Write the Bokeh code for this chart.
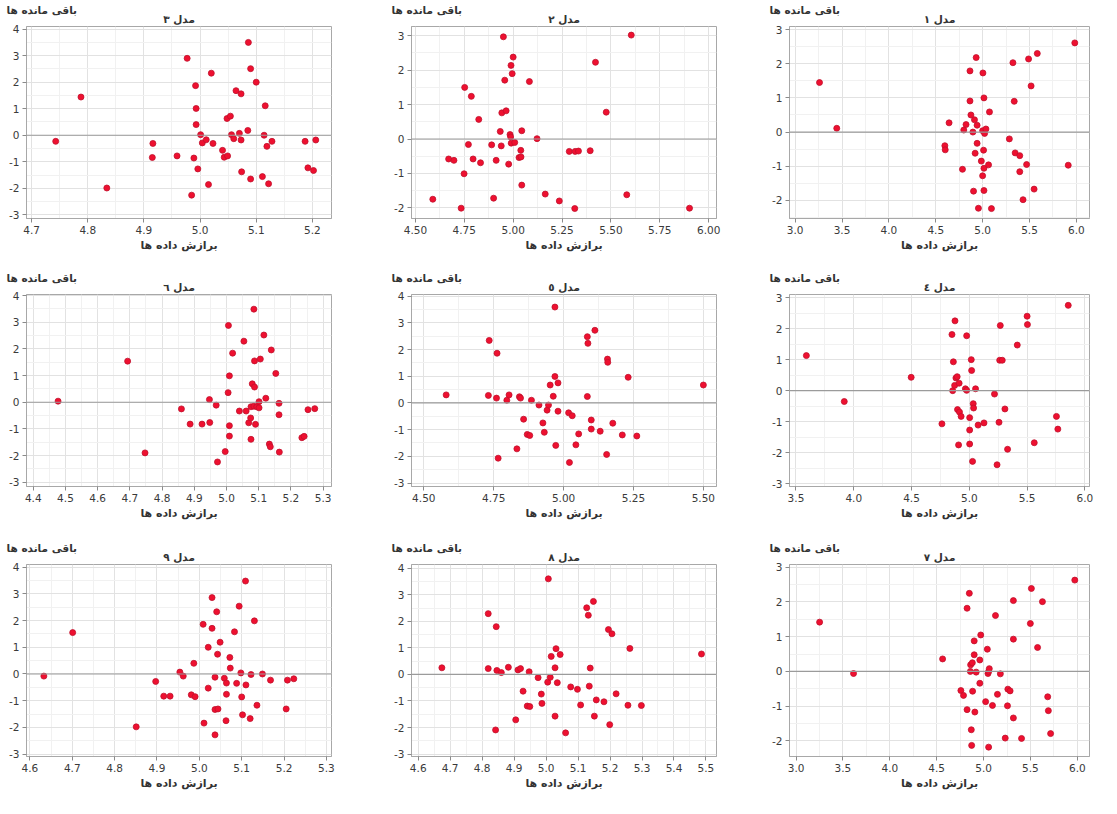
from bokeh.plotting import figure
from bokeh.layouts import column, row
from bokeh.models import Range1d, FixedTicker, NumeralTickFormatter, Span, Title
from bokeh.embed import file_html
from bokeh.resources import INLINE

y_label = "باقی مانده ها"
x_label = "برازش داده ها"
titles = {1: "مدل ۱", 2: "مدل ۲", 3: "مدل ۳", 4: "مدل ٤", 5: "مدل ٥",
          6: "مدل ٦", 7: "مدل ۷", 8: "مدل ۸", 9: "مدل ۹"}

# ---------------- data (fitted values, residuals) ----------------
fit1 = [3.26, 3.444, 4.597, 4.601, 4.642, 4.785, 4.799, 4.823, 4.865, 4.865, 4.875, 4.896, 4.913, 4.920,
        4.903, 4.931, 4.941, 4.941, 4.955, 4.986, 5.000, 5.003, 5.000, 5.010, 5.014, 5.014, 5.014, 5.021,
        5.035, 5.063, 5.073, 5.094, 5.285, 5.323, 5.337, 5.347, 5.396, 5.396, 5.431, 5.469, 5.490, 5.517,
        5.549, 5.583, 5.913, 5.983]
res1 = [1.45, 0.11, -0.40, -0.52, 0.27, -1.09, 0.06, 0.22, 1.79, 0.91, 0.50, 0.00, 0.36, -0.62,
        -1.73, 2.18, 0.20, -0.33, -2.23, -0.85, 0.04, 1.73, -1.28, -0.53, 1.00, -1.06, -1.71, -0.04,
        0.09, -0.96, 0.59, -2.24, -0.20, 2.03, 0.90, -0.61, -0.69, -1.16, -1.98, -0.95, 2.14, 1.35,
        -1.67, 2.30, -0.97, 2.61]

fit2 = [4.589, 4.734, 4.670, 4.697, 4.749, 4.752, 4.786, 4.771, 4.795, 4.824, 4.833, 4.890, 4.913, 4.900,
        4.934, 4.939, 4.942, 4.964, 4.950, 4.957, 4.977, 4.989, 4.995, 5.000, 4.984, 4.987, 4.990, 5.008,
        5.030, 5.040, 5.039, 5.044, 5.044, 5.083, 5.122, 5.164, 5.236, 5.287, 5.317, 5.334, 5.315, 5.394,
        5.421, 5.476, 5.581, 5.604, 5.902]
res2 = [-1.75, -2.01, -0.58, -0.62, -1.01, 1.50, 1.24, -0.16, -0.58, 0.57, -0.69, -0.17, -0.62, -1.72,
        0.22, -0.20, 0.76, 0.82, 2.97, 1.71, -0.73, 2.14, 1.90, 2.38, 0.13, 0.06, -0.12, -0.10,
        -0.54, -0.52, -0.33, 0.24, -1.34, 1.67, 0.01, -1.60, -1.80, -0.36, -0.36, -0.35, -2.02, -0.34,
        2.23, 0.78, -1.62, 3.02, -2.01]

fit3 = [4.743, 4.788, 4.834, 4.916, 4.915, 4.959, 4.977, 4.992, 4.993, 4.993, 4.989, 4.996, 4.985, 5.001,
        5.004, 5.011, 5.023, 5.020, 5.015, 5.040, 5.043, 5.049, 5.048, 5.054, 5.056, 5.060, 5.064, 5.073,
        5.070, 5.073, 5.074, 5.086, 5.085, 5.090, 5.090, 5.100, 5.116, 5.114, 5.119, 5.128, 5.111, 5.122,
        5.187, 5.192, 5.202, 5.206]
res3 = [-0.23, 1.44, -1.99, -0.31, -0.84, -0.78, 2.90, 1.87, 1.01, 0.40, -0.86, -1.27, -2.26, 0.02,
        -0.29, -0.17, -0.31, 2.34, -1.86, -0.57, -0.83, -0.78, 0.63, 0.72, 0.02, -0.13, 1.68, 1.56,
        0.07, -0.18, -1.38, 3.50, 0.18, 2.51, -1.65, 2.00, 1.11, 0.00, -0.42, -0.23, -1.56, -1.83,
        -0.23, -1.23, -1.33, -0.18]

fit4 = [3.590, 3.918, 4.497, 4.763, 4.850, 4.856, 4.862, 4.873, 4.876, 4.884, 4.895, 4.898, 4.907, 4.912,
        4.915, 4.929, 4.966, 4.977, 4.977, 5.003, 5.003, 5.003, 5.017, 5.020, 5.034, 5.037, 5.028, 5.054,
        5.076, 5.127, 5.218, 5.240, 5.257, 5.263, 5.268, 5.285, 5.308, 5.331, 5.415, 5.500, 5.503, 5.562,
        5.754, 5.766, 5.856]
res4 = [1.13, -0.35, 0.43, -1.07, 1.81, 0.00, 0.93, 0.17, 2.25, 0.41, 0.45, -0.61, -1.75, 0.24,
        -0.69, -0.83, 0.06, 0.01, 1.77, -0.87, -1.27, -1.72, 1.00, 0.65, -0.42, -0.56, -2.28, 0.06,
        -1.11, -1.04, -0.11, -2.39, -1.02, 0.98, 2.10, 0.98, -0.59, -1.89, 1.47, 2.40, 2.13, -1.68,
        -0.83, -1.24, 2.75]

fit5 = [4.580, 4.731, 4.734, 4.760, 4.762, 4.766, 4.797, 4.805, 4.833, 4.842, 4.846, 4.857, 4.870, 4.879,
        4.885, 4.912, 4.926, 4.931, 4.941, 4.946, 4.952, 4.963, 4.969, 4.969, 4.972, 4.980, 4.980, 5.018,
        5.031, 5.021, 5.044, 5.054, 5.085, 5.087, 5.085, 5.099, 5.099, 5.112, 5.131, 5.157, 5.158, 5.154,
        5.176, 5.210, 5.231, 5.262, 5.500]
res5 = [0.30, 0.28, 2.34, 0.18, 1.86, -2.07, 0.10, 0.30, -1.72, 0.23, 0.18, -0.61, -1.18, -1.22,
        0.10, -0.08, -0.75, -1.10, -0.27, -0.08, 0.67, 0.25, 0.99, 3.59, -1.59, -0.31, 0.75, -0.37,
        -0.48, -2.23, -1.57, -1.16, 2.48, 2.23, 0.24, -0.64, -0.98, 2.72, -1.06, 1.64, 1.52, -1.93,
        -0.76, -1.20, 0.96, -1.24, 0.67]

fit6 = [4.477, 4.693, 4.747, 4.860, 4.887, 4.924, 4.947, 4.948, 4.968, 4.972, 4.996, 5.005, 5.006, 5.009,
        5.009, 5.009, 5.019, 5.040, 5.054, 5.061, 5.069, 5.075, 5.076, 5.076, 5.080, 5.087, 5.085, 5.087,
        5.090, 5.085, 5.094, 5.101, 5.101, 5.105, 5.116, 5.122, 5.133, 5.136, 5.139, 5.153, 5.163, 5.163,
        5.164, 5.234, 5.241, 5.253, 5.274]
res6 = [0.04, 1.54, -1.90, -0.25, -0.82, -0.82, 0.10, -0.76, -0.11, -2.24, -1.85, 0.36, 2.88, 0.99,
        -0.88, -1.27, 1.84, -0.33, 2.29, -0.33, -0.77, -0.59, -0.17, -1.39, 0.69, 0.57, 3.49, 1.55,
        -0.83, -0.15, -0.17, -0.21, 0.02, 1.62, 2.52, 0.15, -1.57, -1.67, 1.96, 1.08, -0.04, -0.47,
        -1.87, -1.33, -1.28, -0.28, -0.24]

fit7 = [3.251, 3.613, 4.563, 4.758, 4.786, 4.824, 4.824, 4.848, 4.859, 4.862, 4.869, 4.873, 4.880, 4.883,
        4.900, 4.900, 4.907, 4.921, 4.960, 4.960, 4.970, 5.022, 5.040, 5.047, 5.054, 5.061, 5.054, 5.095,
        5.127, 5.148, 5.179, 5.231, 5.255, 5.259, 5.283, 5.318, 5.318, 5.318, 5.405, 5.499, 5.510, 5.576,
        5.628, 5.684, 5.691, 5.715, 5.973]
res7 = [1.42, -0.06, 0.36, -0.55, -0.69, 1.82, -1.10, 2.25, 0.00, 0.19, -1.68, -2.13, 0.25, -0.57,
        0.88, 0.48, -1.17, -0.02, 0.33, -0.34, 1.05, -0.87, 0.64, -0.06, 0.00, 0.08, -2.18, -0.98,
        1.61, -0.66, -0.07, -1.92, -0.99, -0.51, -0.56, 2.04, 0.93, -1.34, -1.93, 1.38, 2.39, 0.69,
        2.01, -0.73, -1.13, -1.79, 2.63]

fit8 = [4.674, 4.819, 4.819, 4.844, 4.842, 4.846, 4.860, 4.882, 4.905, 4.912, 4.920, 4.928, 4.941, 4.949,
        4.947, 4.975, 4.985, 4.987, 5.005, 5.007, 5.013, 5.016, 5.028, 5.028, 5.031, 5.035, 5.044, 5.061,
        5.077, 5.098, 5.108, 5.127, 5.132, 5.135, 5.138, 5.148, 5.151, 5.157, 5.181, 5.195, 5.199, 5.206,
        5.219, 5.256, 5.262, 5.298, 5.486]
res8 = [0.25, 2.29, 0.22, 1.80, -2.09, 0.15, 0.07, 0.27, -1.71, 0.17, 0.22, -0.63, -1.19, -1.21,
        0.10, -0.12, -0.74, -1.09, -0.29, 3.60, -0.11, 0.68, 0.25, -1.57, 0.97, -0.31, 0.75, -2.20,
        -0.47, -0.56, -1.15, 2.51, 2.23, -0.44, 0.24, 2.75, -1.57, -0.96, -1.03, 1.69, -1.89, 1.53,
        -0.73, -1.16, 0.98, -1.17, 0.77]

fit9 = [4.633, 4.701, 4.851, 4.897, 4.916, 4.931, 4.954, 4.962, 4.981, 4.990, 4.987, 5.009, 5.011, 5.021,
        5.021, 5.030, 5.030, 5.037, 5.037, 5.037, 5.041, 5.043, 5.044, 5.049, 5.059, 5.063, 5.064, 5.064,
        5.072, 5.073, 5.083, 5.088, 5.094, 5.098, 5.100, 5.102, 5.109, 5.110, 5.120, 5.122, 5.130, 5.136,
        5.149, 5.168, 5.205, 5.208, 5.223]
res9 = [-0.08, 1.55, -1.98, -0.28, -0.83, -0.83, 0.07, -0.08, -0.78, -0.85, 0.40, 1.86, -1.84, 1.00,
        -0.53, 2.86, 1.71, -0.12, -1.33, -2.28, 2.33, 0.74, -1.31, 1.19, -0.16, -1.75, -0.34, -0.76,
        0.62, 0.22, 1.58, -0.35, 2.54, 0.04, -0.86, -1.53, 3.48, -0.41, -1.67, -0.02, 1.99, -1.17,
        0.00, -0.23, -1.31, -0.23, -0.18]

# ---------------- axis ticks / ranges ----------------
x_ticks = {
    1: [3.0, 3.5, 4.0, 4.5, 5.0, 5.5, 6.0],
    2: [4.50, 4.75, 5.00, 5.25, 5.50, 5.75, 6.00],
    3: [4.7, 4.8, 4.9, 5.0, 5.1, 5.2],
    4: [3.5, 4.0, 4.5, 5.0, 5.5, 6.0],
    5: [4.50, 4.75, 5.00, 5.25, 5.50],
    6: [4.4, 4.5, 4.6, 4.7, 4.8, 4.9, 5.0, 5.1, 5.2, 5.3],
    7: [3.0, 3.5, 4.0, 4.5, 5.0, 5.5, 6.0],
    8: [4.6, 4.7, 4.8, 4.9, 5.0, 5.1, 5.2, 5.3, 5.4, 5.5],
    9: [4.6, 4.7, 4.8, 4.9, 5.0, 5.1, 5.2, 5.3],
}
x_fmt = {1: "0.0", 2: "0.00", 3: "0.0", 4: "0.0", 5: "0.00", 6: "0.0", 7: "0.0", 8: "0.0", 9: "0.0"}
y_ticks = {
    1: [-2, -1, 0, 1, 2, 3],
    2: [-2, -1, 0, 1, 2, 3],
    3: [-3, -2, -1, 0, 1, 2, 3, 4],
    4: [-3, -2, -1, 0, 1, 2, 3],
    5: [-3, -2, -1, 0, 1, 2, 3, 4],
    6: [-3, -2, -1, 0, 1, 2, 3, 4],
    7: [-2, -1, 0, 1, 2, 3],
    8: [-3, -2, -1, 0, 1, 2, 3, 4],
    9: [-3, -2, -1, 0, 1, 2, 3, 4],
}
x_range = {1: (2.94, 6.14), 2: (4.48, 6.04), 3: (4.691, 5.234), 4: (3.444, 6.04), 5: (4.456, 5.547),
           6: (4.379, 5.326), 7: (2.93, 6.13), 8: (4.579, 5.533), 9: (4.592, 5.312)}
y_range = {1: (-2.53, 3.09), 2: (-2.31, 3.27), 3: (-3.14, 4.10), 4: (-3.09, 3.10), 5: (-3.13, 4.06),
           6: (-3.16, 4.04), 7: (-2.45, 3.08), 8: (-3.09, 4.14), 9: (-3.09, 4.10)}

fits = {1: fit1, 2: fit2, 3: fit3, 4: fit4, 5: fit5, 6: fit6, 7: fit7, 8: fit8, 9: fit9}
ress = {1: res1, 2: res2, 3: res3, 4: res4, 5: res5, 6: res6, 7: res7, 8: res8, 9: res9}

order = [[3, 2, 1], [6, 5, 4], [9, 8, 7]]
col_w = [385, 378, 338]
col_rb = [54, 47, 12]
row_h = [268, 270, 260]
TOP = 26
FRAME_H = 192

FONT = "DejaVu Sans"
DOT = "#ee1030"


def minor_of(t):
    step = t[1] - t[0]
    out = []
    for v in [t[0] - step] + list(t):
        out.append(v + step / 2)
    return out


def make(n, w, h, rb):
    xr, yr = x_range[n], y_range[n]
    p = figure(width=w, height=h, x_range=Range1d(*xr), y_range=Range1d(*yr),
               output_backend="svg", toolbar_location=None,
               min_border_left=26, min_border_right=rb, min_border_top=TOP,
               min_border_bottom=h - TOP - FRAME_H)
    p.background_fill_color = "white"
    p.border_fill_color = "white"
    p.outline_line_color = "#a8a8a8"

    # outer title line: the y-axis caption, left aligned (pulled down close to the model title)
    p.title.text = y_label
    p.title.align = "left"
    p.title.offset = -20
    p.title.standoff = -13
    p.title.text_font = FONT
    p.title.text_font_style = "bold"
    p.title.text_font_size = "10.5px"
    p.title.text_color = "#333333"
    # inner title line: model name, centred
    p.add_layout(Title(text=titles[n], align="center", standoff=3, text_font=FONT,
                       text_font_style="bold", text_font_size="10.5px",
                       text_color="#333333"), "above")

    xt, yt = x_ticks[n], y_ticks[n]
    p.xaxis.ticker = FixedTicker(ticks=xt, minor_ticks=minor_of(xt))
    p.yaxis.ticker = FixedTicker(ticks=yt, minor_ticks=minor_of(yt))
    p.xaxis.formatter = NumeralTickFormatter(format=x_fmt[n])
    p.yaxis.formatter = NumeralTickFormatter(format="0")

    for ax in (p.xaxis[0], p.yaxis[0]):
        ax.axis_line_color = "#a8a8a8"
        ax.major_tick_line_color = "#8a8a8a"
        ax.major_tick_out = 4
        ax.major_tick_in = 0
        ax.minor_tick_line_color = None
        ax.major_label_text_font = FONT
        ax.major_label_text_font_size = "10.5px"
        ax.major_label_text_color = "#3a3a3a"
        ax.major_label_standoff = 3

    p.xaxis.axis_label = x_label
    p.xaxis.axis_label_text_font = FONT
    p.xaxis.axis_label_text_font_style = "bold"
    p.xaxis.axis_label_text_font_size = "11px"
    p.xaxis.axis_label_text_color = "#333333"
    p.xaxis.axis_label_standoff = 2

    p.xgrid.grid_line_color = "#e2e2e2"
    p.ygrid.grid_line_color = "#e2e2e2"
    p.xgrid.minor_grid_line_color = "#f1f1f1"
    p.ygrid.minor_grid_line_color = "#f1f1f1"

    p.add_layout(Span(location=0, dimension="width", line_color="#9b9b9b", line_width=1.2))

    p.scatter(fits[n], ress[n], size=6, fill_color=DOT, line_color="#c0102c", line_width=0.8)
    return p


rows = []
for ri, r in enumerate(order):
    figs = [make(n, col_w[ci], row_h[ri], col_rb[ci]) for ci, n in enumerate(r)]
    rows.append(row(*figs))

layout = column(*rows)
open("out.html", "w").write(file_html(layout, INLINE))
